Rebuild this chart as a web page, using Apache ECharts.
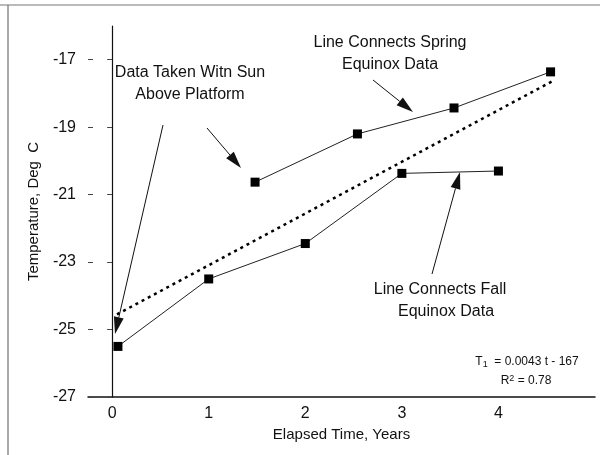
<!DOCTYPE html>
<html><head><meta charset="utf-8">
<script src="https://cdn.jsdelivr.net/npm/echarts@6/dist/echarts.min.js"></script>
<style>html,body{margin:0;padding:0;background:#fff}#c{width:609px;height:455px}</style>
</head><body><div id="c"></div>
<script>
// Data
const fallYears = [0.06, 1, 2, 3, 4];
const fallTemps = [-25.5, -23.5, -22.45, -20.37, -20.3];
const springYears = [1.48, 2.54, 3.54, 4.54];
const springTemps = [-20.63, -19.2, -18.43, -17.36];
const trendYears = [0.05, 4.55];
const trendTemps = [-24.55, -17.65];
const xTickValues = [0, 1, 2, 3, 4];
const yTickValues = [-27, -25, -23, -21, -19, -17];

const FONT = '"Liberation Sans", Arial, sans-serif';
const zip = (a, b) => a.map((v, i) => [v, b[i]]);

function arrow(x1, y1, x2, y2) {
  const dx = x2 - x1, dy = y2 - y1, L = Math.hypot(dx, dy);
  const ux = dx / L, uy = dy / L, hl = 17, hw = 5;
  const bx = x2 - ux * hl, by = y2 - uy * hl;
  return [
    {type: 'line', shape: {x1: x1, y1: y1, x2: bx, y2: by}, style: {stroke: '#111', lineWidth: 1}},
    {type: 'polygon', shape: {points: [[x2, y2], [bx - uy * hw, by + ux * hw], [bx + uy * hw, by - ux * hw]]}, style: {fill: '#111'}}
  ];
}
function txt(s, x, y, size, align) {
  return {type: 'text', x: x, y: y, style: {text: s, font: size + 'px ' + FONT, fill: '#111', align: align || 'center', verticalAlign: 'middle'}};
}

const chart = echarts.init(document.getElementById('c'), null, {renderer: 'canvas'});
const graphics = [].concat(
  [{type: 'line', shape: {x1: 8, y1: 5, x2: 8, y2: 455}, style: {stroke: '#555', lineWidth: 1}},
   {type: 'line', shape: {x1: 0, y1: 5, x2: 600, y2: 5}, style: {stroke: '#777', lineWidth: 1}}],
  txt('Line Connects Spring', 390, 43, 16),
  txt('Equinox Data', 390, 65, 16),
  txt('Data Taken Witn Sun', 190, 73, 16),
  txt('Above Platform', 190, 95, 16),
  txt('Line Connects Fall', 440, 290, 16),
  txt('Equinox Data', 446, 312, 16),
  arrow(163, 125, 115, 334),
  arrow(207, 128, 241, 168),
  arrow(373, 80, 413, 112),
  arrow(432, 274, 460, 172),
  [{type: 'text', x: 527, y: 362, style: {text: 'T{s|1}  = 0.0043 t - 167', font: '12px ' + FONT, fill: '#111', align: 'center', verticalAlign: 'middle', rich: {s: {fontSize: 9, fontFamily: FONT, verticalAlign: 'bottom', padding: [5, 0, 0, 0]}}}},
   {type: 'text', x: 526, y: 381, style: {text: 'R{p|2} = 0.78', font: '12px ' + FONT, fill: '#111', align: 'center', verticalAlign: 'middle', rich: {p: {fontSize: 9, fontFamily: FONT, verticalAlign: 'top', padding: [0, 0, 5, 0]}}}}]
);

chart.setOption({
  animation: false,
  backgroundColor: '#fff',
  textStyle: {fontFamily: FONT},
  grid: {left: 88, right: 14, top: 26, bottom: 58},
  xAxis: {
    type: 'value', min: -0.25, max: 5,
    name: 'Elapsed Time, Years', nameLocation: 'middle', nameGap: 27,
    nameTextStyle: {fontSize: 15, color: '#111', fontFamily: FONT},
    axisLine: {lineStyle: {color: '#111', width: 1.5}},
    axisTick: {show: false},
    splitLine: {show: false},
    axisLabel: {customValues: xTickValues, fontSize: 16, color: '#111', margin: 9, fontFamily: FONT}
  },
  yAxis: [{
    type: 'value', min: -27, max: -16,
    name: 'Temperature, Deg  C', nameLocation: 'middle', nameGap: 47,
    nameTextStyle: {fontSize: 15, color: '#111', fontFamily: FONT},
    axisLine: {show: true, lineStyle: {color: '#111', width: 1.2}},
    axisTick: {show: true, customValues: yTickValues, length: 5, lineStyle: {color: '#444'}},
    splitLine: {show: false},
    axisLabel: {customValues: yTickValues, fontSize: 16, color: '#111', margin: 12, fontFamily: FONT}
  }, {
    type: 'value', min: -27, max: -16, position: 'left',
    axisLine: {show: false},
    axisTick: {show: true, inside: true, customValues: yTickValues, length: 5, lineStyle: {color: '#444'}},
    axisLabel: {show: false}, splitLine: {show: false}
  }],
  series: [
    {type: 'line', name: 'Fall', data: zip(fallYears, fallTemps), symbol: 'rect', symbolSize: 9,
     itemStyle: {color: '#000'}, lineStyle: {color: '#222', width: 1}},
    {type: 'line', name: 'Spring', data: zip(springYears, springTemps), symbol: 'rect', symbolSize: 9,
     itemStyle: {color: '#000'}, lineStyle: {color: '#222', width: 1}},
    {type: 'line', name: 'Trend', data: zip(trendYears, trendTemps), symbol: 'none',
     lineStyle: {color: '#000', width: 2.5, type: [3, 4]}}
  ],
  graphic: graphics
});
</script>
</body></html>
